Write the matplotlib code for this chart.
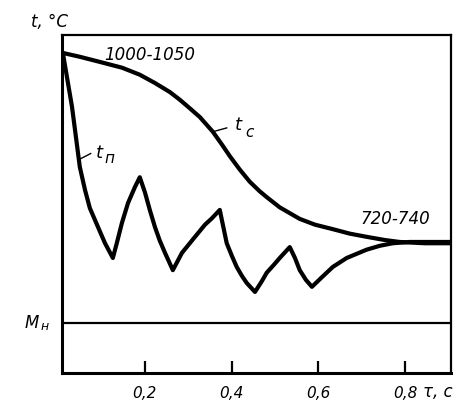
import matplotlib
matplotlib.use("Agg")
import matplotlib.pyplot as plt

# ---------------------------------------------------------------------------
# Data (tau in s, t in deg C, axis is schematic)
# ---------------------------------------------------------------------------

# core temperature t_c
TAU_CORE = [0.012, 0.051, 0.097, 0.148, 0.189, 0.224, 0.258, 0.281,
            0.300, 0.327, 0.357, 0.378, 0.396, 0.419, 0.442, 0.465,
            0.481, 0.511, 0.557, 0.592, 0.633, 0.672, 0.711, 0.753,
            0.787, 0.844, 0.904]
T_CORE   = [1025, 1019, 1011, 1002, 991, 978, 964, 952,
            941, 925, 902, 882, 864, 843, 824, 809,
            800, 784, 766, 757, 750, 743, 738, 733,
            730, 728, 728]

# surface temperature t_п
TAU_SURF = [0.012, 0.033, 0.051, 0.063, 0.074, 0.093, 0.109, 0.127,
            0.136, 0.148, 0.162, 0.178, 0.189,
            0.201, 0.212, 0.224, 0.235, 0.247, 0.265,
            0.286, 0.304, 0.316, 0.339, 0.355, 0.373,
            0.389, 0.401, 0.412, 0.424, 0.435, 0.454,
            0.470, 0.481, 0.497, 0.511, 0.534,
            0.546, 0.557, 0.571, 0.585,
            0.608, 0.633, 0.665, 0.711, 0.741, 0.771, 0.810, 0.904]
T_SURF   = [1025, 941, 847, 811, 783, 753, 728, 705,
            728, 760, 791, 816, 831,
            807, 780, 753, 732, 713, 686,
            713, 728, 738, 757, 767, 780,
            728, 708, 691, 677, 666, 652,
            669, 682, 694, 705, 722,
            705, 686, 671, 660,
            675, 691, 705, 718, 724, 728, 730, 730]

TICKS       = [0.2, 0.4, 0.6, 0.8]
TICK_LABELS = ["0,2", "0,4", "0,6", "0,8"]
MH          = 603.5

# ---------------------------------------------------------------------------
# Figure
# ---------------------------------------------------------------------------

fig = plt.figure(figsize=(4.73, 4.18), dpi=100)
ax = fig.add_axes([62 / 473, 45 / 418, 389 / 473, 338 / 418])

ax.plot(TAU_CORE, T_CORE, color="black", lw=3.0, solid_joinstyle="round",
        solid_capstyle="round")
ax.plot(TAU_SURF, T_SURF, color="black", lw=3.0, solid_joinstyle="round",
        solid_capstyle="round")
ax.axhline(MH, color="black", lw=1.6)

ax.set_xlim(0.01, 0.905)
ax.set_ylim(525.5, 1053)

for side, w in [("left", 2.2), ("bottom", 2.2), ("top", 1.6), ("right", 1.6)]:
    ax.spines[side].set_linewidth(w)

ax.set_yticks([])
ax.set_xticks(TICKS)
ax.set_xticklabels(TICK_LABELS, fontsize=11, fontstyle="italic")
ax.tick_params(axis="x", direction="in", length=9, width=1.6, pad=9)

txt = dict(fontstyle="italic", color="black", clip_on=False)

ax.text(-0.018, 1073, "t, °C", ha="center", va="center", fontsize=12, **txt)
ax.text(0.212, 1022, "1000-1050", ha="center", va="center", fontsize=12, **txt)
ax.text(0.778, 766, "720-740", ha="center", va="center", fontsize=12, **txt)

# curve labels with short leaders
ax.plot([0.357, 0.389], [902, 908], color="black", lw=1.0)
ax.text(0.415, 913, "t", ha="center", va="center", fontsize=13, **txt)
ax.text(0.442, 901, "с", ha="center", va="center", fontsize=11, **txt)

ax.plot([0.053, 0.076], [860, 868], color="black", lw=1.0)
ax.text(0.097, 869, "t", ha="center", va="center", fontsize=13, **txt)
ax.text(0.118, 860, "п", ha="center", va="center", fontsize=11, **txt)

ax.text(-0.059, 604, "M", ha="center", va="center", fontsize=12, **txt)
ax.text(-0.029, 598, "н", ha="center", va="center", fontsize=9, **txt)

ax.text(0.840, 496, "τ, с", ha="left", va="center", fontsize=12, **txt)

fig.savefig("out.png", dpi=100)
